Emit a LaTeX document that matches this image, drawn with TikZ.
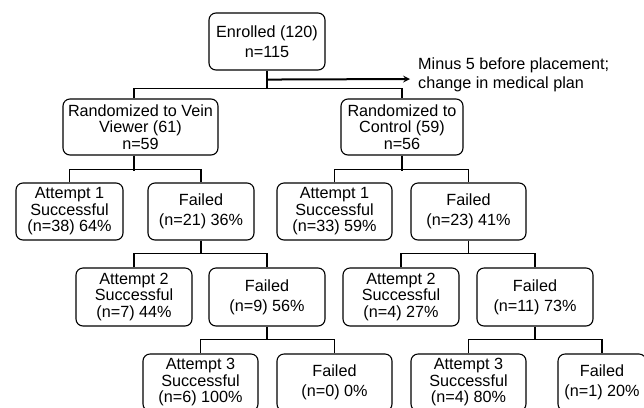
\documentclass[tikz,border=0pt]{standalone}
\usepackage{fontspec}
\setmainfont{Liberation Sans}
\usetikzlibrary{arrows}

\tikzset{
  box/.style={draw, rounded corners=7bp, line width=1.1bp, align=center,
    inner sep=0pt, minimum height=57bp,
    font=\fontsize{16.2bp}{16.5bp}\selectfont},
  twoline/.style={box, font=\fontsize{16.2bp}{20bp}\selectfont},
  note/.style={align=left, inner sep=0pt, font=\fontsize{16.2bp}{19bp}\selectfont},
  link/.style={line width=1.1bp},
}

\begin{document}
\begin{tikzpicture}[x=1bp,y=-1bp]
  \useasboundingbox (0,0) rectangle (644,407);
  \clip (0,0) rectangle (644,407);
  \fill[white] (0,0) rectangle (644,407);

  % top
  \node[twoline, minimum width=116bp] (enr) at (267,41.5) {Enrolled (120)\\n=115};
  \node[note, anchor=west] (minus) at (418,74.5) {Minus 5 before placement;\\change in medical plan};
  \node[box, minimum width=155bp, minimum height=56bp] (vein) at (140.5,127) {Randomized to Vein\\Viewer (61)\\n=59};
  \node[box, minimum width=122bp, minimum height=56bp] (ctrl) at (402,127) {Randomized to\\Control (59)\\n=56};

  % attempt 1
  \node[box, minimum width=107bp] (att1v) at (69.5,211.5) {Attempt 1\\Successful\\(n=38) 64\%};
  \node[twoline, minimum width=106bp] (fail1v) at (201,211.5) {Failed\\(n=21) 36\%};
  \node[box, minimum width=115bp] (att1c) at (334.5,211.5) {Attempt 1\\Successful\\(n=33) 59\%};
  \node[twoline, minimum width=115bp] (fail1c) at (468.5,211.5) {Failed\\(n=23) 41\%};

  % attempt 2
  \node[box, minimum width=116bp, minimum height=58bp] (att2v) at (134,297) {Attempt 2\\Successful\\(n=7) 44\%};
  \node[twoline, minimum width=116bp, minimum height=58bp] (fail2v) at (267,297) {Failed\\(n=9) 56\%};
  \node[box, minimum width=116bp, minimum height=58bp] (att2c) at (401,297) {Attempt 2\\Successful\\(n=4) 27\%};
  \node[twoline, minimum width=116bp, minimum height=58bp] (fail2c) at (535,297) {Failed\\(n=11) 73\%};

  % attempt 3
  \node[box, minimum width=115bp] (att3v) at (200.5,382.5) {Attempt 3\\Successful\\(n=6) 100\%};
  \node[twoline, minimum width=115bp] (fail3v) at (334.5,382.5) {Failed\\(n=0) 0\%};
  \node[box, minimum width=115bp] (att3c) at (468.5,382.5) {Attempt 3\\Successful\\(n=4) 80\%};
  \node[twoline, minimum width=88bp] (fail3c) at (602,382.5) {Failed\\(n=1) 20\%};

  % connectors
  \draw[line width=2bp, -stealth] ([yshift=-9bp]enr.south) -- ([yshift=-4.5bp,xshift=-8bp]minus.west);
  \path ([xshift=-6.5bp]vein.north) ++(0,-10) coordinate (bus0);
  \draw[link] (enr.south) -- (enr.south |- bus0);
  \draw[link] ([xshift=-6.5bp]vein.north) -- (bus0) -| (ctrl.north);
  \draw[link] ([xshift=-6.5bp]vein.south) -- ([xshift=-6.5bp,yshift=-15bp]vein.south);
  \draw[link] (att1v.north) -- ++(0,-13) -| (fail1v.north);
  \draw[link] (ctrl.south) -- ++(0,15);
  \draw[link] (att1c.north) -- ++(0,-13) -| (fail1c.north);
  \foreach \p/\l/\r in {fail1v/att2v/fail2v, fail1c/att2c/fail2c,
                        fail2v/att3v/fail3v, fail2c/att3c/fail3c} {
    \path (\l.north) ++(0,-14) coordinate (bus);
    \draw[link] (\p.south) -- (\p.south |- bus);
    \draw[link] (\l.north) -- (bus) -| (\r.north);
  }
\end{tikzpicture}
\end{document}
